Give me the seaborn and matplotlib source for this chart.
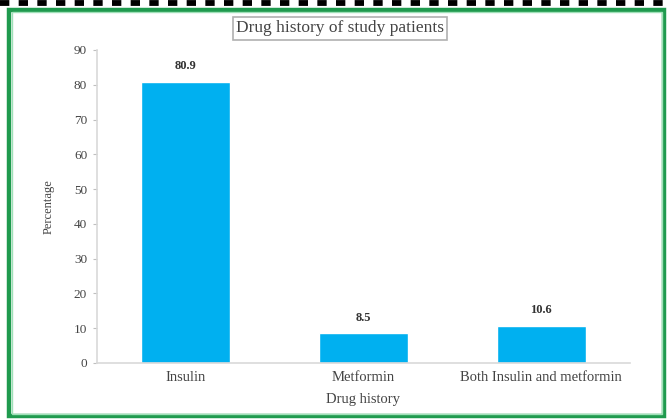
import matplotlib
matplotlib.use("Agg")
import matplotlib.pyplot as plt
import seaborn as sns
import pandas as pd
from matplotlib.patches import Rectangle
from matplotlib.lines import Line2D

categories = ["Insulin", "Metformin", "Both Insulin and metformin"]
values = [80.9, 8.5, 10.6]
yticks = [0, 10, 20, 30, 40, 50, 60, 70, 80, 90]

sns.set_theme(style="white")
plt.rcParams['font.family'] = ['Liberation Serif', 'DejaVu Serif']

df = pd.DataFrame({"Drug history": categories, "Percentage": values})

fig = plt.figure(figsize=(6.68, 4.2), dpi=100)
ax = fig.add_axes([0.145, 0.136, 0.798, 0.745])

sns.barplot(data=df, x="Drug history", y="Percentage", color="#00B0F0",
            saturation=1, width=0.5, ax=ax)

ax.set_ylim(0, 90)
ax.set_yticks(yticks)
ax.set_yticklabels([str(t) for t in yticks], fontsize=9.5, color="#444444")
ax.tick_params(axis="y", which="both", left=True, length=3, width=0.8,
               color="#bfbfbf", pad=4)
ax.tick_params(axis="x", bottom=False, labelcolor="#444444", pad=0)
for lbl in ax.get_xticklabels():
    lbl.set_fontsize(10.5)

for s in ["top", "right"]:
    ax.spines[s].set_visible(False)
for s in ["left", "bottom"]:
    ax.spines[s].set_color("#d9d9d9")
    ax.spines[s].set_linewidth(1.2)

ax.set_xlabel("Drug history", fontsize=10.5, color="#444444", labelpad=6)
ax.set_ylabel("Percentage", fontsize=9, color="#444444", labelpad=14)

for p, v in zip(ax.patches, values):
    ax.annotate(f"{v}", (p.get_x() + p.get_width() / 2, v),
                xytext=(0, 7), textcoords="offset points", ha="center",
                va="bottom", fontsize=9, fontweight="bold", color="#333333")

fig.text(0.509, 0.933, "Drug history of study patients", ha="center",
         va="center", fontsize=12.5, color="#444444",
         bbox=dict(boxstyle="square,pad=0.2", facecolor="white",
                   edgecolor="#b0b0b0", linewidth=1.2))

W, H = 668, 420
# green frame
fig.patches.append(Rectangle((9 / W, 4 / H), 655 / W, 406 / H,
                             transform=fig.transFigure, fill=False,
                             edgecolor="#1f9a4e", linewidth=3.2))
fig.patches.append(Rectangle((11.5 / W, 6.5 / H), 650 / W, 401 / H,
                             transform=fig.transFigure, fill=False,
                             edgecolor="#9fe0b8", linewidth=1.0))
# dashed top line
fig.lines.append(Line2D([0, 1], [1 - 3 / H, 1 - 3 / H],
                        transform=fig.transFigure, color="black",
                        linewidth=4.2, dashes=(1.6, 1.6)))

fig.savefig("out.png", dpi=100)
